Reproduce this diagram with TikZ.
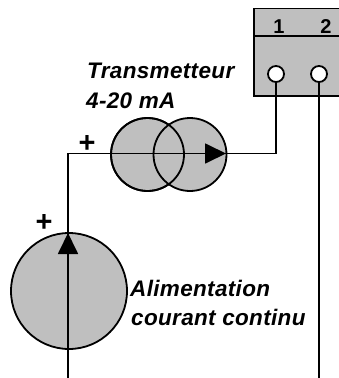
\documentclass[tikz,border=0pt]{standalone}
\usepackage{fontspec}
\setmainfont{Liberation Sans}
\newfontfamily\labfont[LetterSpace=1.5,BoldItalicFont={Liberation Sans Bold Italic}]{Liberation Sans}
\usetikzlibrary{arrows.meta}
\tikzset{
 wire/.style={line width=1.8pt,draw=black},
 disc/.style={circle,draw=black,line width=1.8pt,fill=discgray,inner sep=0pt},
 term/.style={circle,draw=black,line width=1.8pt,fill=white,inner sep=0pt,minimum size=16pt},
 lab/.style={font=\labfont\fontsize{22.5}{25}\selectfont\bfseries\itshape,anchor=base west,inner sep=0pt,align=left},
 num/.style={font=\fontsize{20}{20}\selectfont\bfseries,inner sep=0pt,anchor=base},
 plus/.style={font=\fontsize{29}{29}\selectfont\bfseries,inner sep=0pt},
 head/.style={-{Triangle[length=21pt,width=20pt]}},
}
\definecolor{discgray}{gray}{0.75}
\begin{document}
\begin{tikzpicture}[x=1pt,y=-1pt]
\useasboundingbox (0,0) rectangle (339,378);
% terminal block
\fill[discgray] (254,8.5) rectangle (339,96);
\draw[wire] (339,8.5) -- (254,8.5) -- (254,96) -- (339,96);
\draw[wire] (254,36) -- (339,36);
\node[num] (n1) at (279,33) {1};
\node[num] (n2) at (326,33) {2};
\node[term] (t1) at (276,74) {};
\node[term] (t2) at (319,74) {};
% discs
\node[disc,minimum size=73pt] (a) at (147.5,154.5) {};
\node[disc,minimum size=73pt] (b) at (190,154.5) {};
\draw[wire] (147.5,118) arc[start angle=-90,end angle=270,radius=36.5];
\node[disc,minimum size=116pt] (s) at (69,291) {};
% wires
\coordinate (bot) at (68,378);
\coordinate (corner) at (68,153.5);
\coordinate (botr) at (319,378);
\coordinate (tipH) at (226,153.5);
\coordinate (tipV) at (68,233);
\draw[wire] (bot) -- (corner) -- (tipH);
\draw[wire] (tipH) -- (276,153.5) -- (t1.south);
\draw[wire] (t2.south) -- (botr);
\draw[wire,head] (68,260) -- (tipV);
\draw[wire,head] (190,153.5) -- (tipH);
% labels
\node[lab] (tr) at (87,78.5) {Transmetteur};
\node[lab] (ma) at (86,108) {4-20 mA};
\node[lab] (al) at (130,296) {Alimentation};
\node[lab] (cc) at (131,325) {courant continu};
\node[plus] (p1) at (87,144) {+};
\node[plus] (p2) at (44,223) {+};
\end{tikzpicture}
\end{document}
